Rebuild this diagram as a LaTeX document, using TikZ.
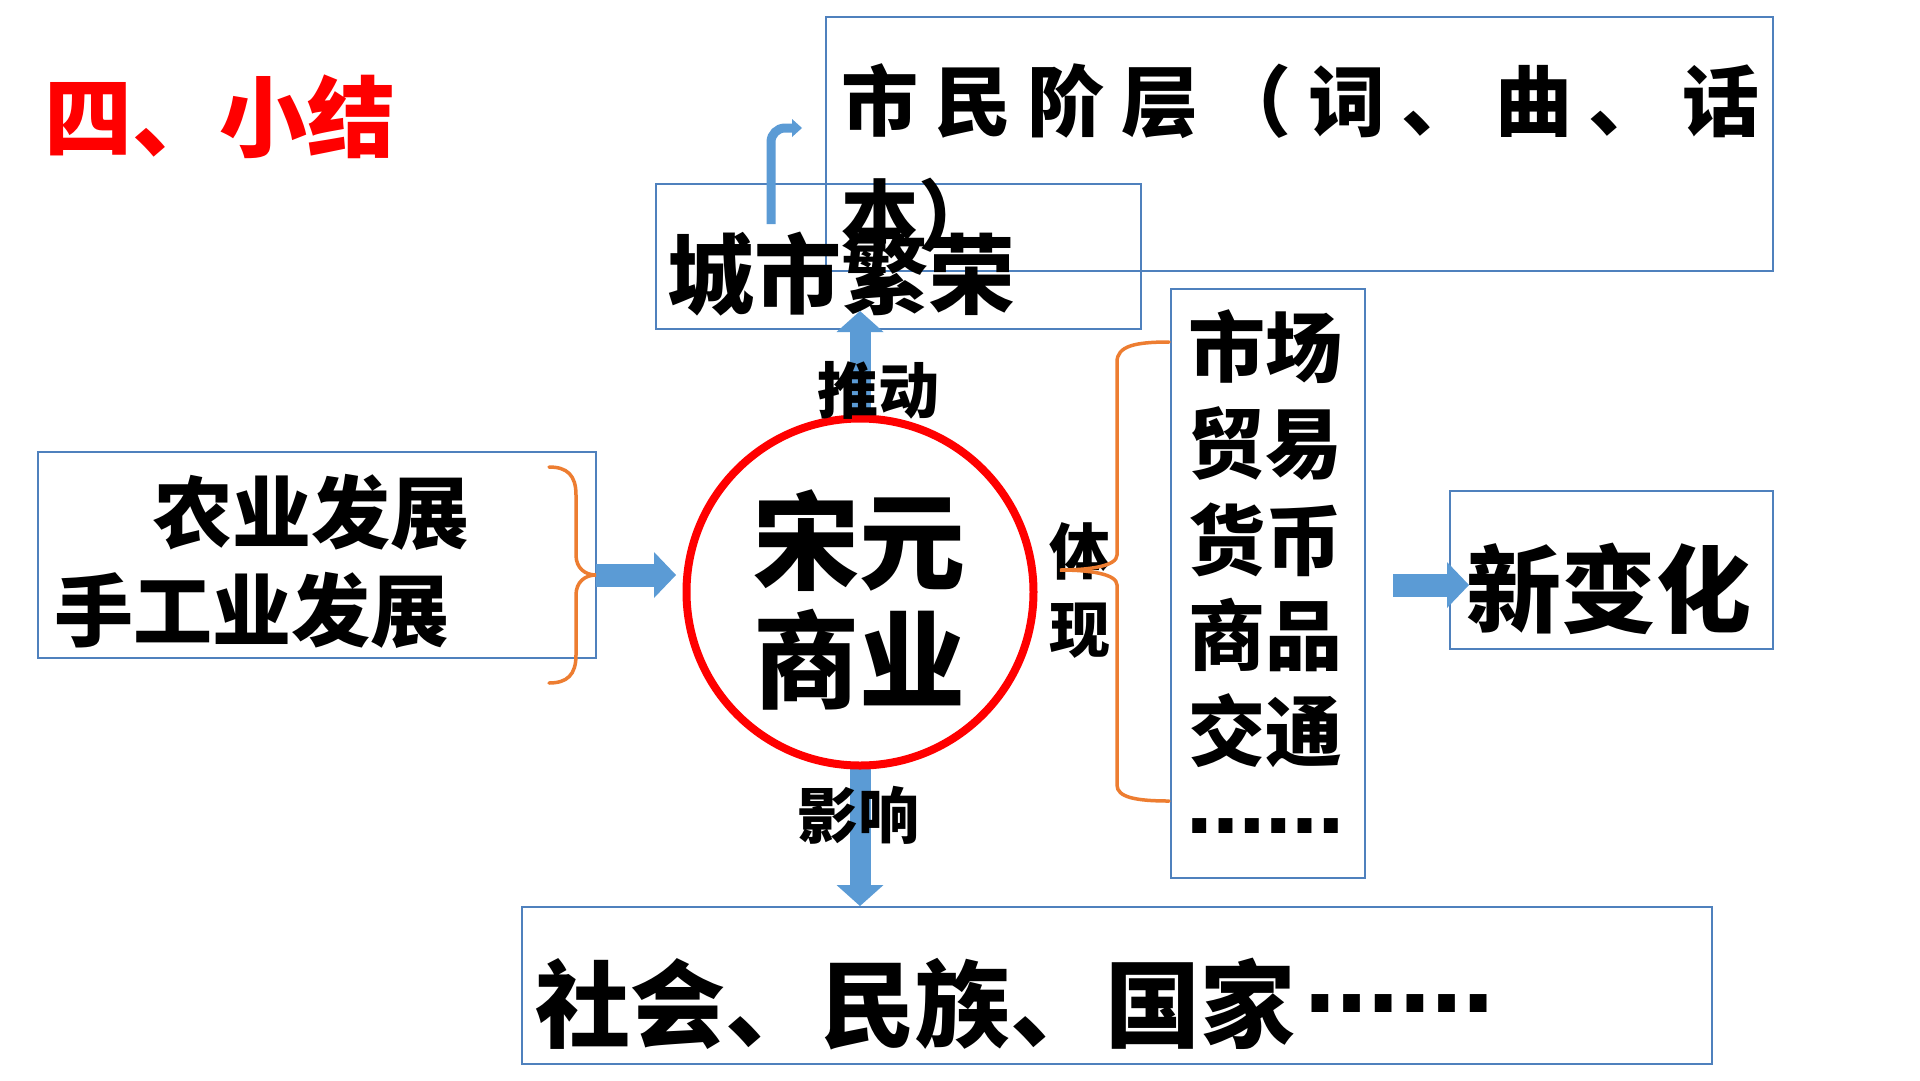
\documentclass[tikz,border=0pt]{standalone}
\usepackage{fontspec}
\setmainfont{Noto Sans CJK SC}
\newfontfamily\dvs{DejaVu Sans}
\usetikzlibrary{arrows.meta}
\definecolor{boxblue}{RGB}{79,129,189}
\definecolor{arrblue}{RGB}{91,155,213}
\definecolor{braceorange}{RGB}{237,125,49}
\definecolor{titlered}{RGB}{255,0,0}
\newcommand{\fsz}[1]{\bfseries\fontsize{#1pt}{#1pt}\selectfont}
\begin{document}
\begin{tikzpicture}[x=1pt,y=-1pt,
  box/.style={draw=boxblue, line width=1.5pt, inner sep=0pt, outer sep=0pt, anchor=north west, rectangle},
  txt/.style={inner sep=0pt, outer sep=0pt, text=black},
  bigarrow/.style={draw=arrblue, line width=21pt, -{Triangle[width=47pt,length=21pt,line width=0pt]}},
  sidearrow/.style={draw=arrblue, line width=23pt, -{Triangle[width=46pt,length=22pt,line width=0pt]}},
  thinarrow/.style={draw=arrblue, line width=9pt, -{Triangle[width=18pt,length=10pt,line width=0pt]}},
  brace/.style={draw=braceorange, line width=3.5pt, line cap=round}
]
\fill[white] (0,0) rectangle (1920,1080);
\useasboundingbox (0,0) rectangle (1920,1080);

% title
\node[txt, text=titlered, anchor=west, font=\fsz{88}] (title) at (44,117) {四、小结};

% boxes
\node[box, minimum width=947pt, minimum height=254pt] (civ) at (826,17) {};
\node[box, minimum width=485pt, minimum height=145pt] (city) at (656,184) {};
\node[box, minimum width=558pt, minimum height=206pt] (agri) at (38,452) {};
\node[box, minimum width=194pt, minimum height=589pt] (market) at (1171,289) {};
\node[box, minimum width=323pt, minimum height=158pt] (newc) at (1450,491) {};
\node[box, minimum width=1190pt, minimum height=157pt] (soc) at (522,907) {};

% texts in boxes
\node[txt, anchor=west, font=\fsz{77}] (civa) at (841,101)
  {\makebox[918pt][s]{市\hfill 民\hfill 阶\hfill 层\hfill （\hfill 词\hfill 、\hfill 曲\hfill 、\hfill 话}};
\node[txt, anchor=west, font=\fsz{77}] (civb) at (841,215) {本）};
\node[txt, anchor=west, font=\fsz{87}] (cityt) at (667,274) {城市繁荣};
\node[txt, font=\fsz{79}] (agria) at (311,512) {农业发展};
\node[txt, font=\fsz{79}] (agrib) at (252,610) {手工业发展};
\node[txt, font=\fsz{77}] (m1) at (1265,347) {市场};
\node[txt, font=\fsz{77}] (m2) at (1265,443) {贸易};
\node[txt, font=\fsz{77}] (m3) at (1265,540) {货币};
\node[txt, font=\fsz{77}] (m4) at (1265,635) {商品};
\node[txt, font=\fsz{77}] (m5) at (1265,731) {交通};
\node[txt, font=\dvs\fsz{79}] (m6) at (1265,826) {……};
\node[txt, anchor=west, font=\fsz{95}] (soct) at (535,1004) {社会、民族、国家};
\node[txt, font=\dvs\fsz{95}] (socdots) at (1399,1004) {……};

% arrows
\coordinate (upTip) at (860,311);
\coordinate (upStart) at (860,420);
\draw[bigarrow] (upStart) -- (upTip);
\coordinate (downStart) at (860,765);
\coordinate (downTip) at (860,906);
\draw[bigarrow] (downStart) -- (downTip);
\coordinate (leftS) at (596,575);
\coordinate (leftT) at (676,575);
\draw[sidearrow] (leftS) -- (leftT);
\coordinate (rightS) at (1393,585);
\coordinate (rightT) at (1469,585);
\draw[sidearrow] (rightS) -- (rightT);
\coordinate (bentS) at (771,224);
\coordinate (bentE) at (802,128);
\draw[thinarrow, rounded corners=14pt] (bentS) |- (bentE);

% circle
\node[circle, draw=titlered, line width=8pt, minimum size=347pt, inner sep=0pt] (circ) at (860,592) {};
\node[txt, font=\fsz{106}] (song1) at (859,541) {宋元};
\node[txt, font=\fsz{106}] (song2) at (859,660) {商业};

% new change text (over arrow tip)
\node[txt, font=\fsz{95}] (newt) at (1609,589) {新变化};

% labels
\node[txt, font=\fsz{61}] (tui) at (878,390) {推动};
\node[txt, font=\fsz{61}] (ying) at (858,815) {影响};
\node[txt, font=\fsz{61}] (ti) at (1080,551) {体};
\node[txt, font=\fsz{61}] (xian) at (1080,631) {现};

% braces
\draw[brace] (549,467) .. controls (567,467) and (576,475) .. (576,495) -- (576,555)
  .. controls (576,568) and (585,575) .. (596,575)
  .. controls (585,575) and (576,582) .. (576,595) -- (576,655)
  .. controls (576,675) and (567,683) .. (549,683);
\draw[brace] (1169,342) .. controls (1135,342) and (1117,346) .. (1117,362) -- (1117,555)
  .. controls (1117,566) and (1090,570) .. (1060,570)
  .. controls (1090,570) and (1117,574) .. (1117,585) -- (1117,785)
  .. controls (1117,797) and (1135,801) .. (1169,801);
\end{tikzpicture}
\end{document}
